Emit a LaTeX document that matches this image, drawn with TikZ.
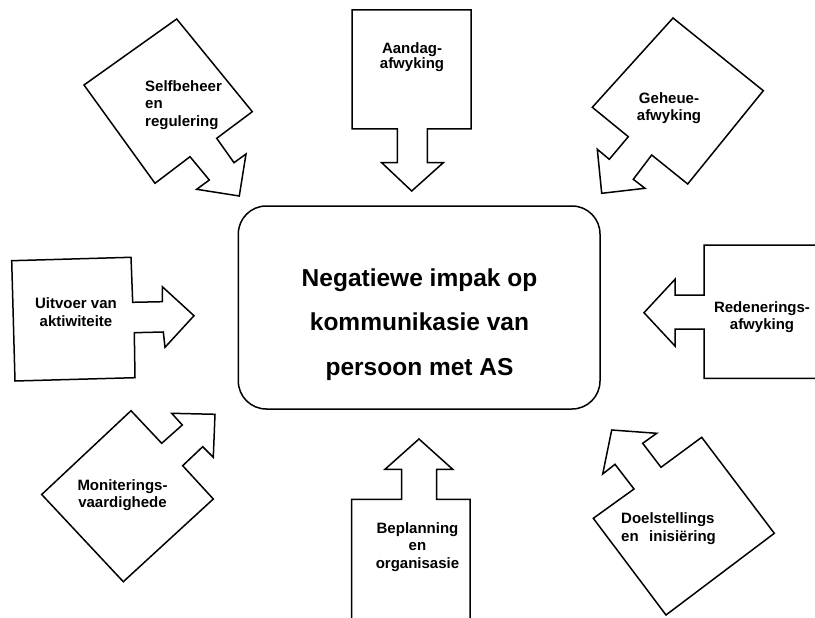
\documentclass[tikz,border=0pt]{standalone}
\usepackage{fontspec}
\setmainfont{Liberation Sans}
\begin{document}
\begin{tikzpicture}[x=1pt,y=-1pt,
  callout/.style={draw=black, line width=1.5pt, line join=miter, fill=white},
  hubbox/.style={draw=black, line width=1.5pt, rounded corners=28pt, inner sep=0pt,
    minimum width=361.7pt, minimum height=203pt},
  hubtext/.style={inner sep=0pt, align=center, anchor=north,
    font=\bfseries\fontsize{24.5}{44.7}\selectfont},
  lbl/.style={inner sep=0pt, align=center, anchor=north,
    font=\bfseries\fontsize{15}{#1}\selectfont},
  lbl/.default=17.2]
\clip (0,0) rectangle (815,618);

% central statement
\node[hubbox] (hub) at (419.15,307.5) {};
\node[hubtext] (hubtxt) at (419.5,268.2)
  {Negatiewe impak op\\kommunikasie van\\persoon met AS};

% Selfbeheer en regulering (upper left, pointing down-right)
\draw[callout] (176.7,19) -- (252.3,111.7) -- (216.7,138.3) -- (234,162.7)
  -- (246,154) -- (239.3,196) -- (196.7,189.3) -- (209.3,180) -- (190,156.7)
  -- (155,183.3) -- (84,85) -- cycle;
\node[lbl=17.5, align=left, anchor=north west] (selfbeheer) at (145,80.2)
  {Selfbeheer\\en\\regulering};

% Aandag-afwyking (top, pointing down)
\draw[callout] (352,10) -- (471,10) -- (471,129) -- (427.3,129) -- (427.3,162.7)
  -- (443.3,162.7) -- (411.7,191) -- (381.7,162.7) -- (397.3,162.7)
  -- (397.3,129) -- (352,129) -- cycle;
\node[lbl=15] (aandag) at (412,42) {Aandag-\\afwyking};

% Geheue-afwyking (upper right, pointing down-left)
\draw[callout] (673,18) -- (763.3,90.7) -- (687.7,184) -- (651.7,155)
  -- (633.3,179.3) -- (645,188.3) -- (601.7,193.3) -- (597.3,149.3)
  -- (609.3,159.3) -- (628.3,136.7) -- (592.3,107.3) -- cycle;
\node[lbl=16.7] (geheue) at (669,92.6) {Geheue-\\afwyking};

% Uitvoer van aktiwiteite (left, pointing right)
\draw[callout] (11.7,260.7) -- (131,257.3) -- (132.7,302.3) -- (162.3,301.7)
  -- (162.3,286.7) -- (194,315.7) -- (165,347.3) -- (163.3,332)
  -- (134.3,332.7) -- (135,377.7) -- (15,381) -- cycle;
\node[lbl=17.7] (uitvoer) at (76,297.6) {Uitvoer van\\aktiwiteite};

% Redeneringsafwyking (right edge, pointing left)
\draw[callout] (830,245) -- (704,245) -- (704,295) -- (675,295) -- (675,279.3)
  -- (644,312.7) -- (675,346) -- (675,329) -- (704,329) -- (704,378.3)
  -- (830,378.3);
\node[lbl=16.7] (redenering) at (762,301.6) {Redenerings-\\afwyking};

% Moniteringsvaardighede (lower left, pointing up-right)
\draw[callout] (131,410.7) -- (161.7,443.3) -- (182.3,425) -- (171.7,413.3)
  -- (215,414.3) -- (213.3,457.3) -- (202.7,446.7) -- (182.7,465.7)
  -- (213.3,499) -- (123.3,581.7) -- (41.7,494.5) -- cycle;
\node[lbl=17.3] (monitering) at (122.5,479.3) {Moniterings-\\vaardighede};

% Beplanning en organisasie (bottom edge, pointing up)
\draw[callout] (351.7,630) -- (351.7,499.3) -- (401.7,499.3) -- (401.7,469.3)
  -- (385,469.3) -- (419,439) -- (452.7,469.3) -- (436.7,469.3)
  -- (436.7,499.3) -- (470,499.3) -- (470,630);
\node[lbl=17.5] (beplanning) at (417.5,522.3) {Beplanning\\en\\organisasie};

% Doelstellings en inisiering (lower right, pointing up-left)
\draw[callout] (611.7,430) -- (656.7,433.3) -- (642.7,443.3) -- (661,467.3)
  -- (701.7,437.3) -- (774.3,533.3) -- (666,615) -- (593.3,518.3)
  -- (634,489) -- (615,464.3) -- (602.7,474) -- cycle;
\node[lbl=18.3, align=left, anchor=north west] (doelstelling) at (621,512)
  {Doelstellings\\en\hspace{10.5pt}inisiëring};
\end{tikzpicture}
\end{document}
